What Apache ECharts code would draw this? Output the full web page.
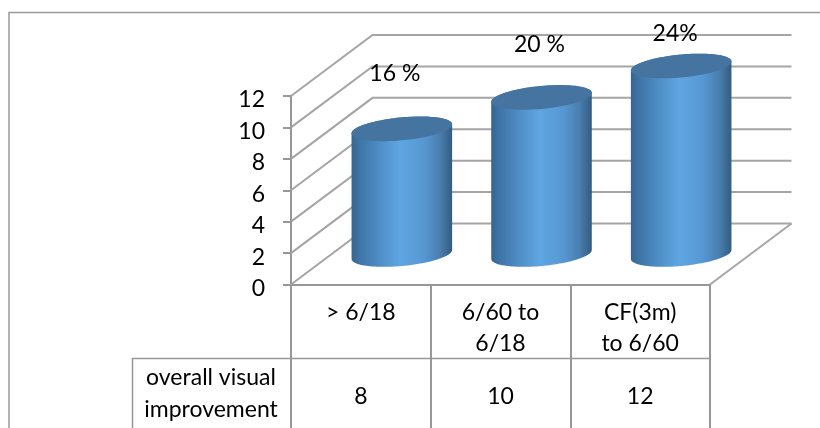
<!DOCTYPE html>
<html>
<head>
<meta charset="utf-8">
<style>html,body{margin:0;padding:0;background:#fff}#chart{width:820px;height:428px}</style>
<script src="https://cdn.jsdelivr.net/npm/echarts@6/dist/echarts.min.js"></script>
</head>
<body>
<div id="chart"></div>
<script>
// Visual acuity groups and their improvement counts
const categories = ['> 6/18', '6/60 to\n6/18', 'CF(3m)\nto 6/60'];
const improvement = [8, 10, 12];
const percentLabels = ['16 %', '20 %', '24%'];
const yTicks = [0, 2, 4, 6, 8, 10, 12];
const rowTitle = 'overall visual\nimprovement';

// Oblique projection of the chart box
const DEPTH_X = 81.5, DEPTH_Y = -61;
const BASE_SHIFT_X = 41, BASE_SHIFT_Y = -30;
const CYL_WIDTH = 0.72, CYL_MINOR = 11.5, CYL_TILT = -4.5;
// Hand-placed label positions relative to each cylinder's top centre
const LABEL_SHIFT = [[-7, -55], [-2, -53], [-6, -32]];

const FONT = 'Lato';
const FONT_SIZE = 23;
const LINE = '#a5a5a5';
const AXIS = '#979797';

const chart = echarts.init(document.getElementById('chart'), null, {renderer: 'canvas'});

// Points around a sheared ellipse: t in radians, screen y grows downward
function ellipsePoint(cx, cy, a, t) {
  return [cx + a * Math.cos(t), cy + CYL_TILT * Math.cos(t) + CYL_MINOR * Math.sin(t)];
}
function arc(cx, cy, a, from, to, n) {
  const pts = [];
  for (let i = 0; i <= n; i++) pts.push(ellipsePoint(cx, cy, a, from + (to - from) * i / n));
  return pts;
}

// Side and back walls plus the floor outline
function renderWall(params, api) {
  const cs = params.coordSys;
  const tick = api.value(1);
  const y = api.coord([0, tick])[1];
  const left = cs.x, right = cs.x + cs.width;
  const style = {stroke: LINE, lineWidth: 2, fill: null};
  const children = [
    {type: 'polyline', shape: {points: [[left, y], [left + DEPTH_X, y + DEPTH_Y], [right + DEPTH_X, y + DEPTH_Y]]}, style}
  ];
  if (tick === 0) {
    children.push({type: 'line', shape: {x1: right + DEPTH_X, y1: y + DEPTH_Y, x2: right, y2: y}, style});
  }
  return {type: 'group', children};
}

// One cylinder: shaded body, darker lid, and the percentage above it
function renderCylinder(params, api) {
  const idx = api.value(0), val = api.value(1);
  const band = api.size([1, 0])[0];
  const a = band * CYL_WIDTH / 2;
  const cx = api.coord([idx, 0])[0] + BASE_SHIFT_X;
  const yBase = api.coord([idx, 0])[1] + BASE_SHIFT_Y;
  const yTop = api.coord([idx, val])[1] + BASE_SHIFT_Y;
  const body = arc(cx, yBase, a, Math.PI, 0, 60).concat(arc(cx, yTop, a, 0, -Math.PI, 60));
  const shade = new echarts.graphic.LinearGradient(0, 0, 1, 0, [
    {offset: 0, color: '#36658f'},
    {offset: 0.08, color: '#3f74a5'},
    {offset: 0.25, color: '#4c8ac2'},
    {offset: 0.48, color: '#5fa6e2'},
    {offset: 0.72, color: '#5697d2'},
    {offset: 0.88, color: '#4a7eaf'},
    {offset: 1, color: '#335c80'}
  ]);
  const shift = LABEL_SHIFT[idx];
  return {
    type: 'group',
    children: [
      {type: 'polygon', shape: {points: body}, style: {fill: shade}},
      {type: 'polygon', shape: {points: arc(cx, yTop, a, 0, 2 * Math.PI, 120)}, style: {fill: '#44749f'}},
      {type: 'text', x: cx + shift[0], y: yTop + shift[1], style: {
        text: percentLabels[idx], fill: '#000', font: FONT_SIZE + 'px ' + FONT, align: 'center', verticalAlign: 'middle'
      }}
    ]
  };
}

// Value row of the data table under the axis
function renderTableValue(params, api) {
  const idx = api.value(0);
  const pt = api.coord([idx, 0]);
  return {
    type: 'text', x: pt[0], y: pt[1] + 112,
    style: {text: String(api.value(1)), fill: '#000', font: FONT_SIZE + 'px ' + FONT, align: 'center', verticalAlign: 'middle'}
  };
}

const rows = categories.map((c, i) => [i, improvement[i]]);

chart.setOption({
  animation: false,
  backgroundColor: '#fff',
  grid: {left: 291, right: 110, top: 96, bottom: 143.5},
  xAxis: {
    type: 'category',
    data: categories,
    axisLine: {lineStyle: {color: AXIS, width: 2}},
    axisTick: {show: true, length: 144, alignWithLabel: false, lineStyle: {color: AXIS, width: 2}},
    axisLabel: {interval: 0, margin: 12, color: '#000', fontFamily: FONT, fontSize: FONT_SIZE, lineHeight: 31.5, verticalAlign: 'top', align: 'center'},
    splitLine: {show: false}
  },
  yAxis: {
    type: 'value', min: 0, max: 12, interval: 2,
    axisLine: {show: true, lineStyle: {color: AXIS, width: 2}},
    axisTick: {show: true, length: 8, lineStyle: {color: AXIS, width: 2}},
    axisLabel: {
      margin: 26, verticalAlign: 'middle',
      formatter: '{tick|{value}}',
      rich: {tick: {color: '#000', fontFamily: FONT, fontSize: FONT_SIZE, padding: [8, 0, 0, 0]}}
    },
    splitLine: {show: false}
  },
  series: [
    {type: 'custom', name: 'walls', renderItem: renderWall, data: yTicks.map(t => [0, t]), encode: {x: 0, y: 1}, z: 1, silent: true},
    {type: 'custom', name: 'overall visual improvement', renderItem: renderCylinder, data: rows, encode: {x: 0, y: 1}, z: 3},
    {type: 'custom', name: 'table values', renderItem: renderTableValue, data: rows, encode: {x: 0, y: 1}, z: 3}
  ],
  graphic: [
    {type: 'polyline', shape: {points: [[9, 428], [9, 12.5], [820, 12.5]]}, style: {stroke: '#9a9a9a', lineWidth: 1.5, fill: null}},
    {type: 'polyline', shape: {points: [[132.5, 428], [132.5, 358.5], [710, 358.5]]}, style: {stroke: AXIS, lineWidth: 1.5, fill: null}},
    {type: 'text', x: 211, y: 394, style: {text: rowTitle, fill: '#000', font: FONT_SIZE + 'px ' + FONT, lineHeight: 32, align: 'center', verticalAlign: 'middle'}}
  ]
});
</script>
</body>
</html>
